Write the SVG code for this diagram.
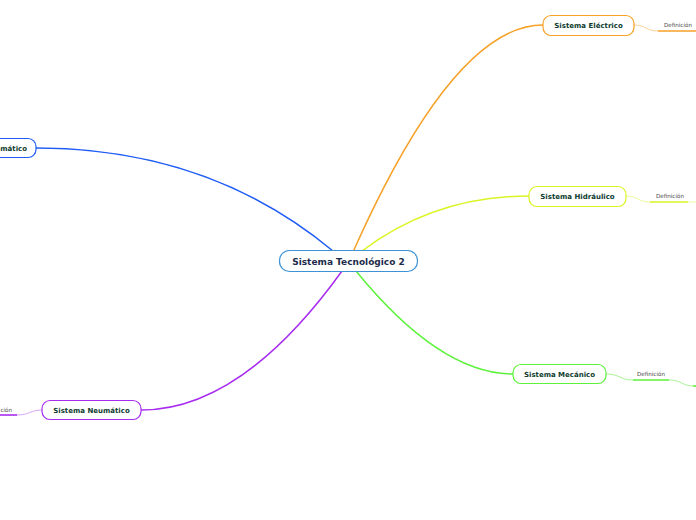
<svg xmlns="http://www.w3.org/2000/svg" width="696" height="520" viewBox="0 0 696 520">
<style>
.edge{fill:none;stroke-width:1.5}
.thin{fill:none;stroke-width:1}
.ul{fill:none;stroke-width:1.6}
.node{fill:#fff;stroke-width:1.2}
.lbl{font-family:"DejaVu Sans",Verdana,sans-serif;font-weight:bold;font-size:7px;fill:#0d3b2e;text-anchor:middle}
.def{font-family:"DejaVu Sans",Verdana,sans-serif;font-size:5.6px;fill:#444}
</style>
<rect width="696" height="520" fill="#fff"/>
<g id="connectors">
<path class="edge" stroke="#f7a127" d="M353,252 Q454,25 543,25"/>
<path class="edge" stroke="#1f5cf5" d="M333,251 Q209,148 36,148"/>
<path class="edge" stroke="#dcf323" d="M362,251 Q435,196 529,196"/>
<path class="edge" stroke="#5cf23a" d="M356,271 Q440,374 513,374"/>
<path class="edge" stroke="#a82cf0" d="M342,271 Q242,410 141,410"/>
<path class="thin" stroke="#fbd29a" d="M634,25 C646,25 646,31 658,31"/>
<path class="ul" stroke="#f7a127" d="M658,31 H696"/>
<path class="thin" stroke="#eef99a" d="M626,196 C638,196 638,202 650,202"/>
<path class="ul" stroke="#dcf323" d="M650,202 H688"/>
<path class="thin" stroke="#eef99a" d="M688,202 H696"/>
<path class="thin" stroke="#a8f595" d="M606,374 C620,374 620,380 633,380"/>
<path class="ul" stroke="#5cf23a" d="M633,380 H669"/>
<path class="thin" stroke="#a8f595" d="M669,380 C682,380 682,386 693,386"/>
<path class="ul" stroke="#5cf23a" d="M693,386 H696"/>
<path class="thin" stroke="#d9a6f7" d="M42,410 C30,410 30,415 17,415"/>
<path class="ul" stroke="#a82cf0" d="M0,415 H17"/>
</g>
<g id="center">
<rect class="node" x="279.5" y="250.5" width="138" height="21" rx="10" stroke="#3d93d6"/>
<text x="348.5" y="264.5" font-family="DejaVu Sans,Verdana,sans-serif" font-weight="bold" font-size="9px" fill="#1d2c4c" text-anchor="middle">Sistema Tecnológico 2</text>
</g>
<g id="electrico">
<rect class="node" x="543" y="15.5" width="91" height="20" rx="8" stroke="#f7a127"/>
<text class="lbl" x="588.5" y="28">Sistema Eléctrico</text>
<text class="def" x="664" y="26.5">Definición</text>
</g>
<g id="hidraulico">
<rect class="node" x="529" y="186.5" width="97" height="20" rx="8" stroke="#dcf323"/>
<text class="lbl" x="577.5" y="199">Sistema Hidráulico</text>
<text class="def" x="656" y="198">Definición</text>
</g>
<g id="mecanico">
<rect class="node" x="513" y="364.5" width="93" height="19" rx="8" stroke="#5cf23a"/>
<text class="lbl" x="559.5" y="376.5">Sistema Mecánico</text>
<text class="def" x="637" y="375.5">Definición</text>
</g>
<g id="automatico">
<rect class="node" x="-60" y="138.5" width="96" height="19" rx="8" stroke="#1f5cf5"/>
<text class="lbl" x="27" y="150.5" style="text-anchor:end">mático</text>
</g>
<g id="neumatico">
<rect class="node" x="42" y="400.5" width="99" height="19" rx="8" stroke="#a82cf0"/>
<text class="lbl" x="91.5" y="412.5">Sistema Neumático</text>
<text class="def" x="12" y="412" text-anchor="end">ción</text>
</g>
</svg>
